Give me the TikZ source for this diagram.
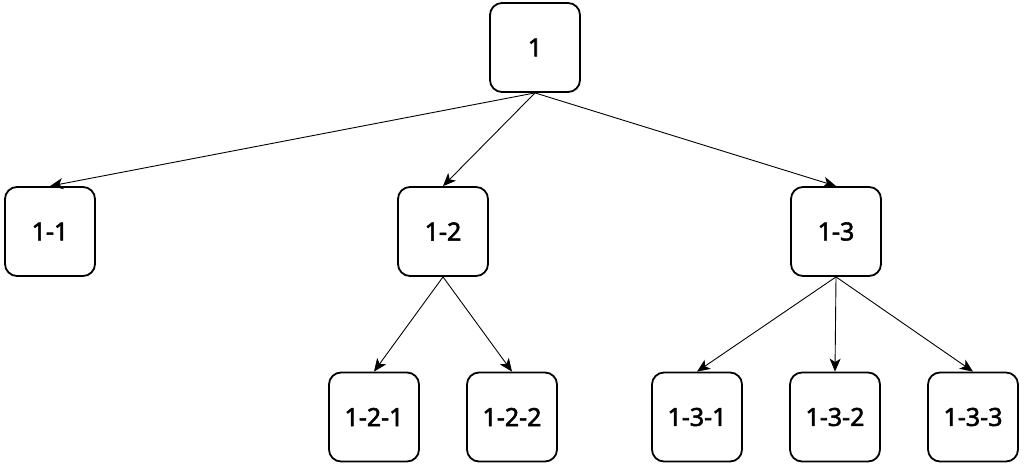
\documentclass[tikz,border=0pt]{standalone}
\usepackage{fontspec}
\setmainfont{Noto Sans}[AutoFakeBold=2.2]
\usetikzlibrary{arrows.meta}
\begin{document}
\begin{tikzpicture}[x=1pt,y=-1pt,
  box/.style={draw,line width=1.8pt,rounded corners=12pt,minimum width=90pt,minimum height=89pt,inner sep=0pt,font=\fontsize{25}{30}\selectfont\bfseries},
  conn/.style={line width=0.9pt,-{Stealth[length=13pt,width=11pt,inset=3.5pt]}}]
\useasboundingbox (0,0) rectangle (1024,468);
\node[box] (n1) at (535,47.5) {1};
\node[box] (n11) at (50,231.5) {1-1};
\node[box] (n12) at (443,231.5) {1-2};
\node[box] (n13) at (836,231.5) {1-3};
\node[box] (n121) at (374,417) {1-2-1};
\node[box] (n122) at (512,417) {1-2-2};
\node[box] (n131) at (697,417) {1-3-1};
\node[box] (n132) at (835,417) {1-3-2};
\node[box] (n133) at (973,417) {1-3-3};
\draw[conn] (n1.south) -- (n11.north);
\draw[conn] (n1.south) -- (n12.north);
\draw[conn] (n1.south) -- (n13.north);
\draw[conn] (n12.south) -- (n121.north);
\draw[conn] (n12.south) -- (n122.north);
\draw[conn] (n13.south) -- (n131.north);
\draw[conn] (n13.south) -- (n132.north);
\draw[conn] (n13.south) -- (n133.north);
\end{tikzpicture}
\end{document}
